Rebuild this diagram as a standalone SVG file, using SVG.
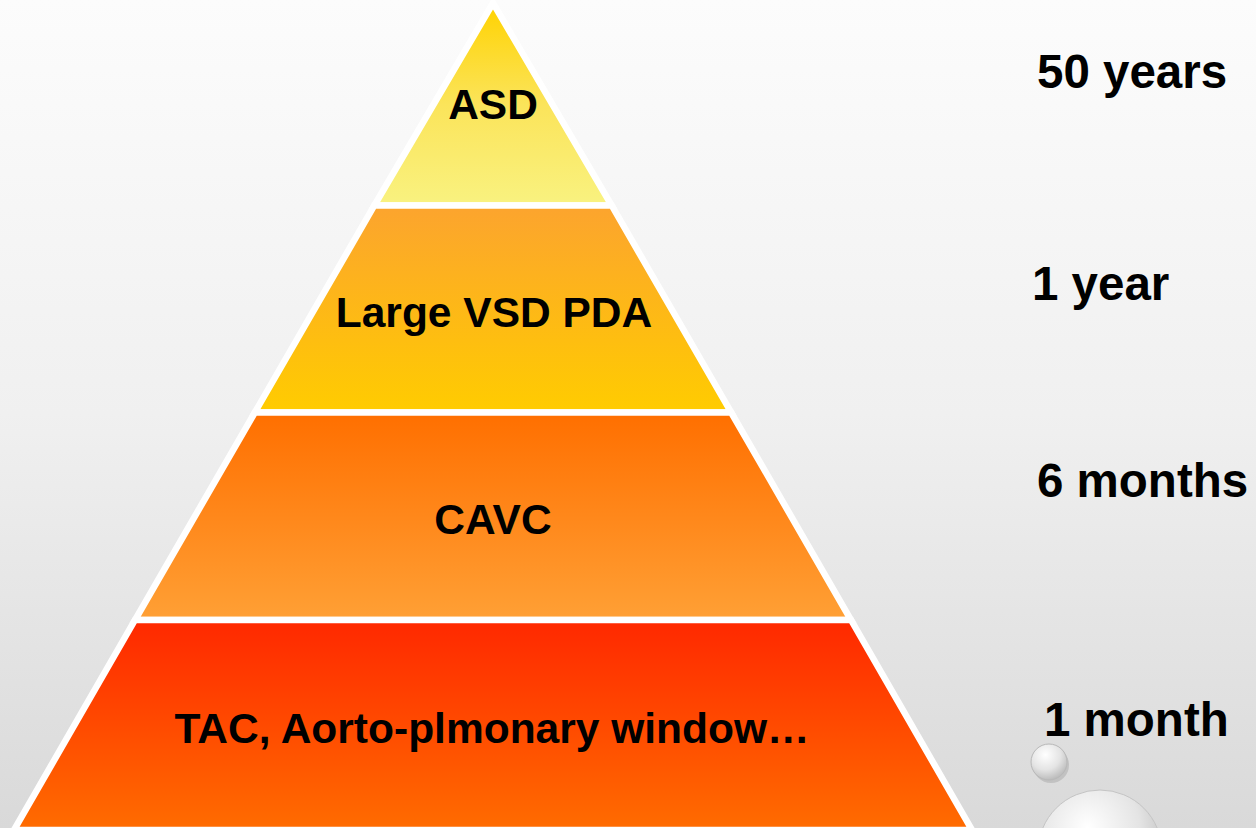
<svg xmlns="http://www.w3.org/2000/svg" width="1256" height="828" viewBox="0 0 1256 828">
  <defs>
    <linearGradient id="bg" x1="0" y1="0" x2="0" y2="1">
      <stop offset="0" stop-color="#fcfcfc"/>
      <stop offset="0.5" stop-color="#f0f0f0"/>
      <stop offset="1" stop-color="#d9d9d9"/>
    </linearGradient>
    <linearGradient id="g1" x1="0" y1="0" x2="0" y2="1">
      <stop offset="0" stop-color="#ffd200"/>
      <stop offset="0.5" stop-color="#fbe45a"/>
      <stop offset="1" stop-color="#f9f280"/>
    </linearGradient>
    <linearGradient id="g2" x1="0" y1="0" x2="0" y2="1">
      <stop offset="0" stop-color="#fca42e"/>
      <stop offset="1" stop-color="#ffcc00"/>
    </linearGradient>
    <linearGradient id="g3" x1="0" y1="0" x2="0" y2="1">
      <stop offset="0" stop-color="#ff6f00"/>
      <stop offset="1" stop-color="#ffa035"/>
    </linearGradient>
    <linearGradient id="g4" x1="0" y1="0" x2="0" y2="1">
      <stop offset="0" stop-color="#ff2800"/>
      <stop offset="1" stop-color="#ff6c00"/>
    </linearGradient>
    <radialGradient id="bub" cx="0.4" cy="0.3" r="0.7">
      <stop offset="0" stop-color="#ffffff"/>
      <stop offset="0.6" stop-color="#e4e4e4"/>
      <stop offset="1" stop-color="#bdbdbd"/>
    </radialGradient>
  </defs>
  <style>
    .band { stroke: #ffffff; stroke-width: 6.5; stroke-linejoin: miter; }
    .lbl { font-family: "Liberation Sans", Arial, sans-serif; font-weight: bold; font-size: 42.5px; fill: #000000; text-anchor: middle; }
    .side { font-family: "Liberation Sans", Arial, sans-serif; font-weight: bold; font-size: 47.5px; fill: #000000; }
  </style>
  <rect x="0" y="0" width="1256" height="828" fill="url(#bg)"/>
  <g id="bubbles">
    <circle cx="1051" cy="765" r="18" fill="#a8a8a8" opacity="0.5"/>
    <circle cx="1049" cy="762" r="18" fill="url(#bub)" stroke="#b8b8b8" stroke-width="1"/>
    <circle cx="1100" cy="852" r="62" fill="url(#bub)" stroke="#c4c4c4" stroke-width="1"/>
  </g>
  <g id="level1">
    <polygon class="band" points="493,3 611.7,205.5 374.3,205.5" fill="url(#g1)"/>
    <text class="lbl" x="493" y="119">ASD</text>
  </g>
  <g id="level2">
    <polygon class="band" points="374.3,205.5 611.7,205.5 731.2,412.5 254.8,412.5" fill="url(#g2)"/>
    <text class="lbl" x="494" y="327">Large VSD PDA</text>
  </g>
  <g id="level3">
    <polygon class="band" points="254.8,412.5 731.2,412.5 851,620 135,620" fill="url(#g3)"/>
    <text class="lbl" x="493" y="534">CAVC</text>
  </g>
  <g id="level4">
    <polygon class="band" points="135,620 851,620 972,830 14,830" fill="url(#g4)"/>
    <text class="lbl" x="492" y="743">TAC, Aorto-plmonary window…</text>
  </g>
  <g id="labels">
    <text class="side" x="1037" y="88">50 years</text>
    <text class="side" x="1032" y="300">1 year</text>
    <text class="side" x="1037" y="497">6 months</text>
    <text class="side" x="1044" y="736">1 month</text>
  </g>
</svg>
